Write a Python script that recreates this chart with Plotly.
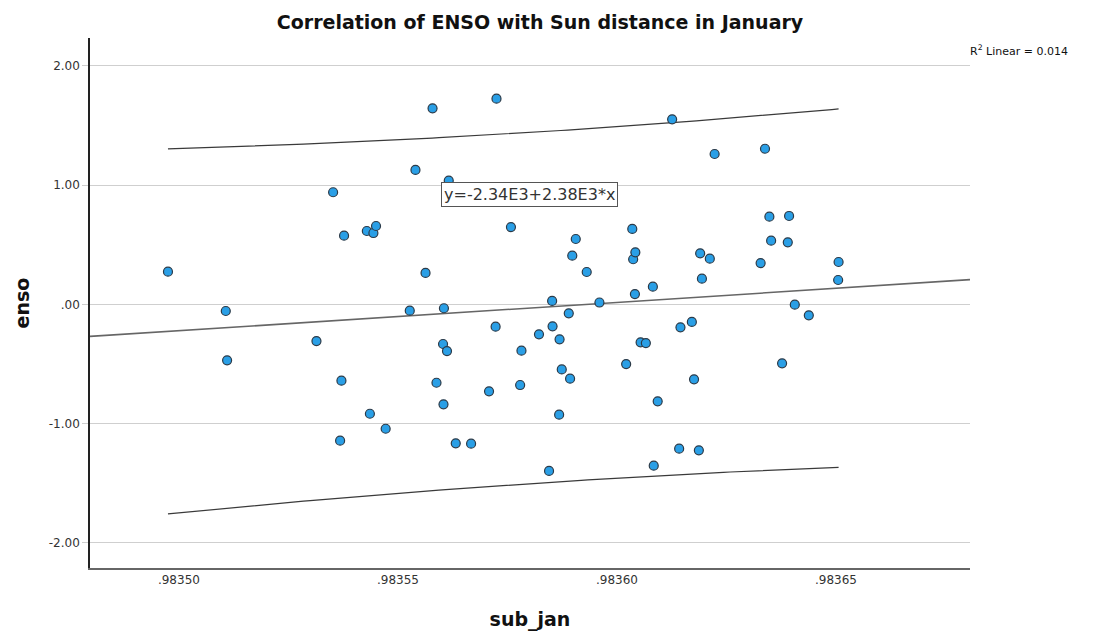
import numpy as np
import plotly.graph_objects as go

# Data
sub_jan = [
    0.9834975, 0.9835107, 0.9835110, 0.9835314, 0.9835352, 0.9835377, 0.9835371, 0.9835368,
    0.9835429, 0.9835444, 0.9835450, 0.9835436, 0.9835472, 0.9835527, 0.9835540, 0.9835563,
    0.9835579, 0.9835588, 0.9835603, 0.9835605, 0.9835612, 0.9835604, 0.9835616, 0.9835632,
    0.9835667, 0.9835708, 0.9835723, 0.9835725, 0.9835758, 0.9835779, 0.9835782, 0.9835822,
    0.9835845, 0.9835852, 0.9835853, 0.9835869, 0.9835868, 0.9835874, 0.9835890, 0.9835893,
    0.9835898, 0.9835906, 0.9835931, 0.9835960, 0.9836021, 0.9836035, 0.9836037, 0.9836041,
    0.9836042, 0.9836054, 0.9836066, 0.9836082, 0.9836084, 0.9836093, 0.9836126, 0.9836145,
    0.9836142, 0.9836171, 0.9836176, 0.9836187, 0.9836190, 0.9836194, 0.9836212, 0.9836223,
    0.9836328, 0.9836338, 0.9836348, 0.9836352, 0.9836377, 0.9836390, 0.9836393, 0.9836406,
    0.9836438, 0.9836506, 0.9836505,
]
enso = [
    0.274, -0.056, -0.470, -0.308, 0.940, 0.576, -0.641, -1.144,
    0.615, 0.598, 0.657, -0.918, -1.044, -0.053, 1.127, 0.263,
    1.644, -0.658, -0.333, -0.033, -0.392, -0.839, 1.037, -1.166,
    -1.169, -0.730, -0.188, 1.725, 0.648, -0.677, -0.389, -0.252,
    -1.398, 0.028, -0.185, -0.294, -0.926, -0.546, -0.076, -0.624,
    0.408, 0.548, 0.271, 0.015, -0.501, 0.632, 0.378, 0.086,
    0.436, -0.319, -0.325, 0.148, -1.354, -0.814, 1.552, -0.193,
    -1.211, -0.148, -0.629, -1.225, 0.428, 0.215, 0.383, 1.261,
    0.346, 1.305, 0.735, 0.534, -0.495, 0.520, 0.741, -0.003,
    -0.092, 0.355, 0.204,
]

x_tick_vals = [0.98350, 0.98355, 0.98360, 0.98365]
x_tick_text = [".98350", ".98355", ".98360", ".98365"]
y_tick_vals = [2, 1, 0, -1, -2]
y_tick_text = ["2.00", "1.00", ".00", "-1.00", "-2.00"]

x_range = [0.9834797, 0.9836806]
y_range = [-2.212, 2.234]

# Linear fit and 95% individual prediction interval
x = np.array(sub_jan)
y = np.array(enso)
n = len(x)
xm = x.mean()
sxx = ((x - xm) ** 2).sum()
slope = ((x - xm) * (y - y.mean())).sum() / sxx
intercept = y.mean() - slope * xm
resid = y - (intercept + slope * x)
s = np.sqrt((resid ** 2).sum() / (n - 2))
t_crit = 1.993

xf = np.array(x_range)
xp = np.linspace(x.min(), x.max(), 100)
yp = intercept + slope * xp
half = t_crit * s * np.sqrt(1 + 1 / n + (xp - xm) ** 2 / sxx)

fig = go.Figure()
fig.add_trace(go.Scatter(x=xp, y=yp + half, mode="lines",
                         line=dict(color="#3a3a3a", width=1.2), hoverinfo="skip"))
fig.add_trace(go.Scatter(x=xp, y=yp - half, mode="lines",
                         line=dict(color="#3a3a3a", width=1.2), hoverinfo="skip"))
fig.add_trace(go.Scatter(x=xf, y=intercept + slope * xf, mode="lines",
                         line=dict(color="#666666", width=1.6), hoverinfo="skip"))
fig.add_trace(go.Scatter(x=sub_jan, y=enso, mode="markers",
                         marker=dict(size=9, color="#2a9fe6",
                                     line=dict(color="#2b3a48", width=1.2))))

fig.add_annotation(x=0.9835801, y=0.925, xref="x", yref="y",
                   text="y=-2.34E3+2.38E3*x", showarrow=False,
                   font=dict(family="DejaVu Sans", size=16, color="#333333"),
                   bgcolor="white", bordercolor="#555555", borderwidth=1, borderpad=2)
fig.add_annotation(x=1.0, y=1.0, xref="paper", yref="paper", xanchor="left", yanchor="middle",
                   xshift=-2, yshift=-12,
                   text="R<sup>2</sup> Linear = 0.014", showarrow=False,
                   font=dict(family="DejaVu Sans", size=11, color="#111111"))

fig.update_layout(
    width=1096, height=637,
    margin=dict(l=90, r=126, t=38, b=69),
    paper_bgcolor="white", plot_bgcolor="white",
    showlegend=False,
    title=dict(text="<b>Correlation of ENSO with Sun distance in January</b>",
               x=540 / 1096, xanchor="center", y=1 - 22 / 637, yanchor="middle",
               font=dict(family="DejaVu Sans", size=19, color="#111111")),
    xaxis=dict(range=x_range, tickvals=x_tick_vals, ticktext=x_tick_text, automargin=False,
               showgrid=False, zeroline=False, showline=True, linecolor="#666666",
               linewidth=2, ticks="", tickfont=dict(family="DejaVu Sans", size=12, color="#333333"),
               title=dict(text="<b>sub_jan</b>", standoff=26,
                          font=dict(family="DejaVu Sans", size=19, color="#111111"))),
    yaxis=dict(range=y_range, tickvals=y_tick_vals, ticktext=y_tick_text, automargin=False,
               showgrid=True, gridcolor="#cfcfcf", gridwidth=1, zeroline=False,
               showline=True, linecolor="#222222", linewidth=1.5, ticks="outside",
               ticklen=6, tickcolor="#cfcfcf",
               tickfont=dict(family="DejaVu Sans", size=12, color="#333333"),
               title=dict(text="<b>enso</b>", standoff=14,
                          font=dict(family="DejaVu Sans", size=19, color="#111111"))),
)

fig.write_html("out.html")
